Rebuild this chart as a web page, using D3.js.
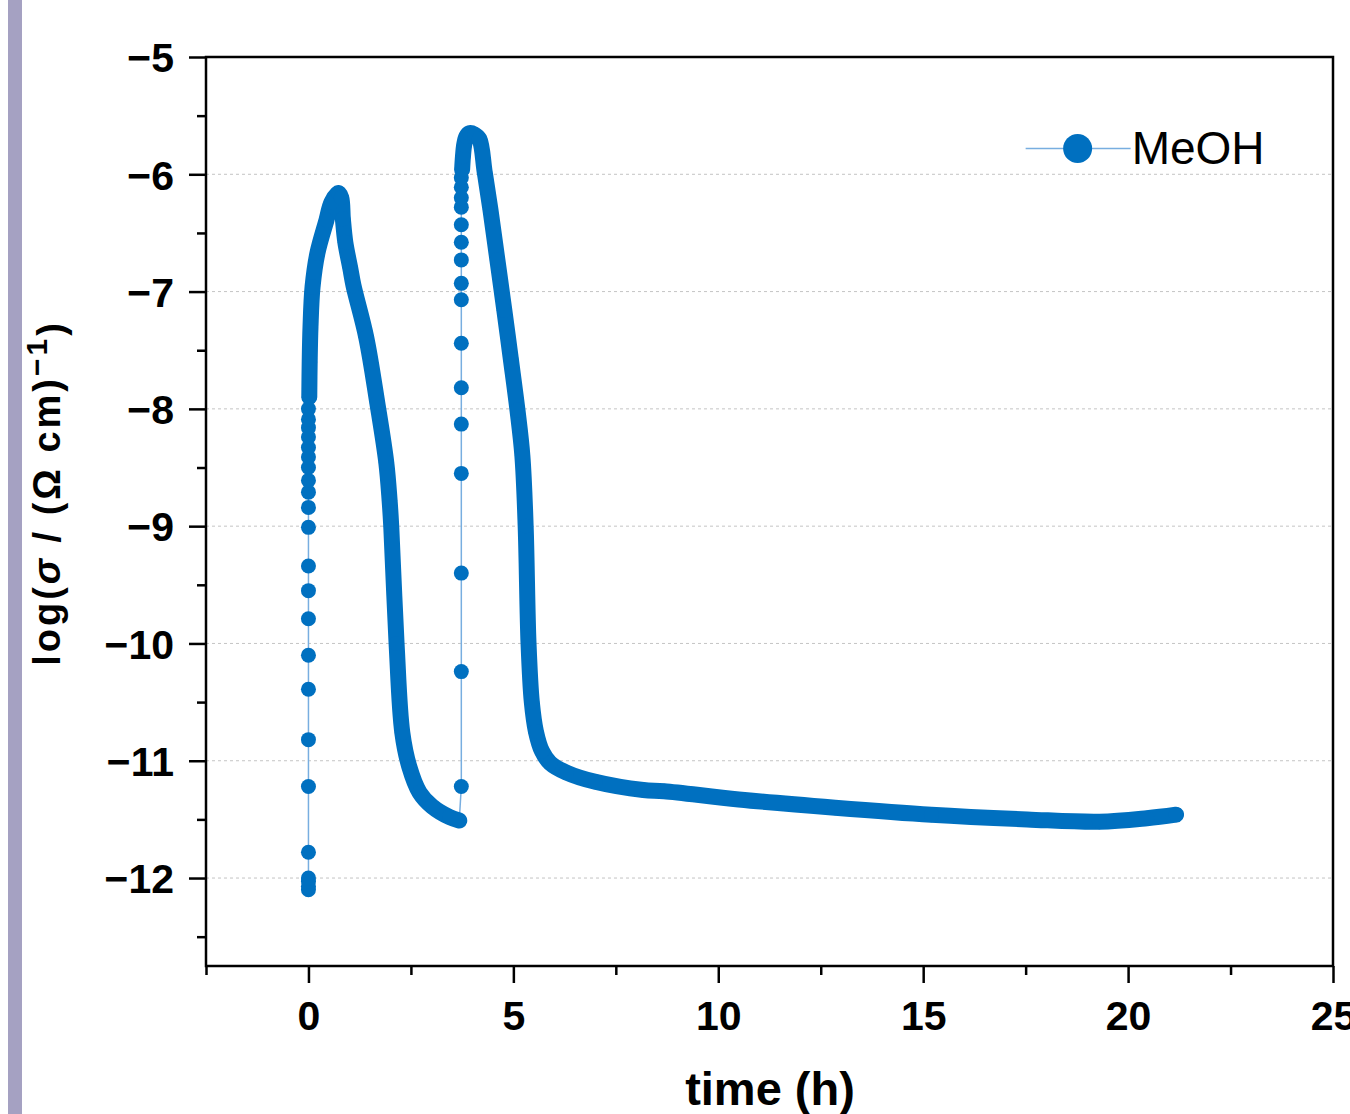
<!DOCTYPE html>
<html>
<head>
<meta charset="utf-8">
<script src="https://cdn.jsdelivr.net/npm/d3@7"></script>
<style>
  body { margin: 0; background: #fff; }
  svg { display: block; font-family: "Liberation Sans", Arial, sans-serif; }
</style>
</head>
<body>
<div id="chart"></div>
<script>
// Values: time (h) and log(sigma)
// sparse rise after start
var rise1T = [0, 0, 0, 0, 0, 0, 0, 0, 0, 0, 0, 0, 0, 0, 0, 0, 0, 0, 0, 0, 0, 0, 0];
var rise1V = [-12.1, -12.07, -12.03, -12.0, -11.78, -11.22, -10.82, -10.39, -10.1, -9.79, -9.55, -9.34,
              -9.01, -8.84, -8.71, -8.61, -8.50, -8.41, -8.33, -8.24, -8.16, -8.09, -8.0];
// dense run: first peak and decay
var run1T = [0.02, 0.03, 0.05, 0.10, 0.22, 0.44, 0.56, 0.73, 0.80, 0.84, 0.90, 1.02, 1.10, 1.41, 1.68,
             1.90, 1.98, 2.02, 2.15, 2.29, 2.46, 2.71, 3.02, 3.44, 3.68];
var run1V = [-7.9, -7.6, -7.3, -6.96, -6.67, -6.39, -6.24, -6.16, -6.2, -6.38, -6.58, -6.8, -6.95, -7.39, -7.95,
             -8.46, -8.78, -9.0, -10.0, -10.76, -11.05, -11.27, -11.39, -11.48, -11.51];
// sparse second rise
var rise2T = [3.73, 3.73, 3.73, 3.73, 3.73, 3.73, 3.73, 3.73, 3.73, 3.73, 3.73, 3.73, 3.73, 3.73, 3.73, 3.73];
var rise2V = [-11.22, -10.24, -9.40, -8.55, -8.13, -7.82, -7.44, -7.07, -6.93, -6.73, -6.58, -6.43,
              -6.28, -6.20, -6.11, -6.03];
// dense run: second peak and long tail
var run2T = [3.75, 3.77, 3.80, 3.85, 3.93, 4.05, 4.17, 4.30, 4.44, 4.61, 4.78, 4.94, 5.10, 5.22, 5.30,
             5.37, 5.45, 5.55, 5.70, 5.90, 6.29, 7.0, 8.17, 8.68, 10.5, 12.85, 15.2, 17.54, 19.3, 20.46, 21.17];
var run2V = [-5.96, -5.85, -5.75, -5.68, -5.65, -5.66, -5.70, -5.98, -6.30, -6.73, -7.16, -7.58, -8.01,
             -8.40, -9.0, -10.0, -10.5, -10.75, -10.92, -11.02, -11.10, -11.18, -11.25, -11.26, -11.33,
             -11.40, -11.46, -11.50, -11.52, -11.49, -11.46];

var xTicks = [0, 5, 10, 15, 20, 25];
var yTicks = [-5, -6, -7, -8, -9, -10, -11, -12];
var seriesName = "MeOH";

var svgWidth = 1350;
var svgHeight = 1114;
var margin = { top: 57, right: 17, bottom: 148, left: 206 };
var width = svgWidth - margin.left - margin.right;
var height = svgHeight - margin.top - margin.bottom;

var blue = "#0070c0";
var lightBlue = "#78aee0";

var svg = d3.select("#chart").append("svg")
  .attr("width", svgWidth)
  .attr("height", svgHeight);

// side bar at left edge
svg.append("rect")
  .attr("x", 8).attr("y", 0)
  .attr("width", 14).attr("height", svgHeight)
  .attr("fill", "#a5a1c2");

var chartGroup = svg.append("g")
  .attr("transform", `translate(${margin.left}, ${margin.top})`);

var xScale = d3.scaleLinear().domain([-2.5, 25]).range([0, width]);
var yScale = d3.scaleLinear().domain([-12.75, -5]).range([height, 0]);

// grid lines
chartGroup.append("g")
  .selectAll("line")
  .data(yTicks.filter(d => d !== -5))
  .enter()
  .append("line")
  .attr("x1", 0).attr("x2", width)
  .attr("y1", d => yScale(d)).attr("y2", d => yScale(d))
  .attr("stroke", "#c4c4c4")
  .attr("stroke-width", 1)
  .attr("stroke-dasharray", "3,3");

function fmt(d) { return String(d).replace("-", "\u2212"); }

// minor ticks
chartGroup.append("g")
  .attr("transform", `translate(0, ${height})`)
  .call(d3.axisBottom(xScale).tickValues([-2.5, 2.5, 7.5, 12.5, 17.5, 22.5]).tickSize(9).tickFormat(""))
  .call(g => g.select(".domain").remove())
  .selectAll("line").attr("stroke-width", 2.5);

chartGroup.append("g")
  .call(d3.axisLeft(yScale).tickValues([-5.5, -6.5, -7.5, -8.5, -9.5, -10.5, -11.5, -12.5]).tickSize(9).tickFormat(""))
  .call(g => g.select(".domain").remove())
  .selectAll("line").attr("stroke-width", 2.5);

// major axes
var xAxis = chartGroup.append("g")
  .attr("transform", `translate(0, ${height})`)
  .call(d3.axisBottom(xScale).tickValues(xTicks).tickSize(17).tickPadding(18).tickFormat(fmt));

var yAxis = chartGroup.append("g")
  .call(d3.axisLeft(yScale).tickValues(yTicks).tickSize(17).tickPadding(15).tickFormat(fmt));

[xAxis, yAxis].forEach(function(ax) {
  ax.select(".domain").remove();
  ax.selectAll("line").attr("stroke-width", 2.5);
  ax.selectAll("text")
    .attr("font-size", "41px")
    .attr("font-weight", "bold")
    .attr("font-family", "Liberation Sans, Arial, sans-serif")
    .attr("fill", "#000");
});
yAxis.selectAll("text").attr("dy", "0.36em");

// frame
chartGroup.append("rect")
  .attr("x", 0).attr("y", 0)
  .attr("width", width).attr("height", height)
  .attr("fill", "none")
  .attr("stroke", "#000")
  .attr("stroke-width", 2.5);

// all points in order
var allT = rise1T.concat(run1T, rise2T, run2T);
var allV = rise1V.concat(run1V, rise2V, run2V);
var allData = allT.map((t, i) => ({ t: t, v: allV[i] }));

var line = d3.line()
  .x(d => xScale(d.t))
  .y(d => yScale(d.v));

// thin connecting line
chartGroup.append("path")
  .datum(allData)
  .attr("d", line)
  .attr("fill", "none")
  .attr("stroke", lightBlue)
  .attr("stroke-width", 1.5);

// dense runs: overlapping markers form a thick band
var bandLine = d3.line()
  .x(d => xScale(d.t))
  .y(d => yScale(d.v))
  .curve(d3.curveCatmullRom.alpha(0.5));

[[run1T, run1V], [run2T, run2V]].forEach(function(run) {
  var pts = run[0].map((t, i) => ({ t: t, v: run[1][i] }));
  chartGroup.append("path")
    .datum(pts)
    .attr("d", bandLine)
    .attr("fill", "none")
    .attr("stroke", blue)
    .attr("stroke-width", 16)
    .attr("stroke-linejoin", "round")
    .attr("stroke-linecap", "round");
});

chartGroup.append("g")
  .selectAll("circle")
  .data(allData)
  .enter()
  .append("circle")
  .attr("cx", d => xScale(d.t))
  .attr("cy", d => yScale(d.v))
  .attr("r", 7.5)
  .attr("fill", blue);

// legend
var legend = chartGroup.append("g")
  .attr("transform", `translate(${xScale(17.5)}, ${yScale(-5.78)})`);
legend.append("line")
  .attr("x1", 0).attr("x2", 105)
  .attr("y1", 0).attr("y2", 0)
  .attr("stroke", lightBlue)
  .attr("stroke-width", 1.5);
legend.append("circle")
  .attr("cx", 52).attr("cy", 0).attr("r", 14.5)
  .attr("fill", blue);
legend.append("text")
  .attr("x", 106).attr("y", 16)
  .attr("font-size", "46px")
  .attr("fill", "#000")
  .text(seriesName);

// axis titles
svg.append("text")
  .attr("x", 770)
  .attr("y", 1105)
  .attr("text-anchor", "middle")
  .attr("font-size", "47px")
  .attr("font-weight", "bold")
  .text("time (h)");

var yTitle = svg.append("text")
  .attr("transform", "translate(60, 493) rotate(-90)")
  .attr("text-anchor", "middle")
  .attr("font-size", "38px")
  .attr("font-weight", "bold")
  .attr("letter-spacing", "3px");
yTitle.append("tspan").text("log(");
yTitle.append("tspan").attr("font-style", "italic").text("\u03c3");
yTitle.append("tspan").text(" / (\u03a9 cm)");
yTitle.append("tspan").attr("dy", "-0.45em").attr("font-size", "30px").text("\u22121");
yTitle.append("tspan").attr("dy", "0.45em").text(")");
</script>
</body>
</html>
